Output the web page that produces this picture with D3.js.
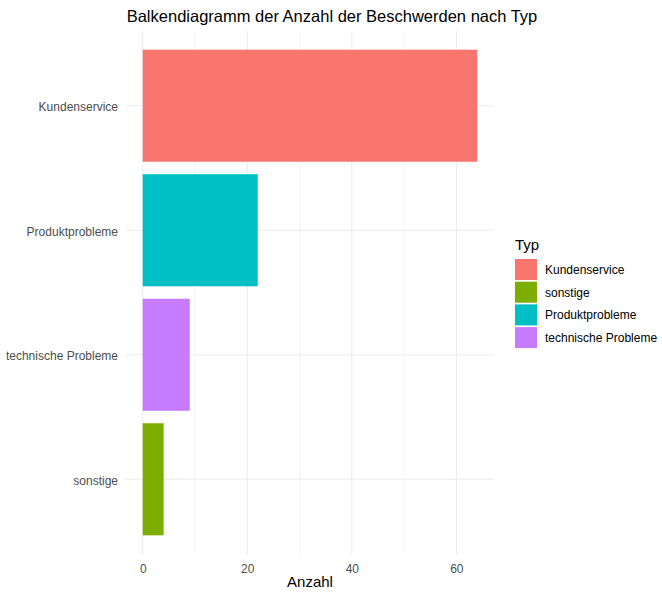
<!DOCTYPE html>
<html>
<head>
<meta charset="utf-8">
<script src="https://cdn.jsdelivr.net/npm/d3@7"></script>
<style>
  body { margin: 0; background: #fff; }
  text { font-family: "Liberation Sans", Arial, sans-serif; }
</style>
</head>
<body>
<div id="chart"></div>
<script>
// bar order top to bottom
var categories = ["Kundenservice", "Produktprobleme", "technische Probleme", "sonstige"];
var counts = [64, 22, 9, 4];
// legend / colour order (factor levels)
var legendTypes = ["Kundenservice", "sonstige", "Produktprobleme", "technische Probleme"];
var legendColors = ["#F8766D", "#7CAE00", "#00BFC4", "#C77CFF"];
var xTicks = [0, 20, 40, 60];

var width = 662, height = 598;
var panel = { left: 126, right: 494, top: 31, bottom: 554 };

var svg = d3.select("#chart").append("svg")
    .attr("width", width)
    .attr("height", height);

var data = categories.map(function (c, i) { return { typ: c, n: counts[i] }; });

var maxN = d3.max(counts);
var x = d3.scaleLinear()
    .domain([-maxN * 0.05, maxN * 1.05])
    .range([panel.left, panel.right]);

var y = d3.scaleBand()
    .domain(categories)
    .range([panel.top, panel.bottom])
    .paddingInner(0.1)
    .paddingOuter(0.15);

var color = d3.scaleOrdinal()
    .domain(legendTypes)
    .range(legendColors);

// grid lines: minor then major
var minorTicks = [10, 30, 50];
svg.append("g").selectAll("line.minor")
    .data(minorTicks)
    .enter().append("line")
    .attr("x1", function (d) { return x(d); })
    .attr("x2", function (d) { return x(d); })
    .attr("y1", panel.top)
    .attr("y2", panel.bottom)
    .attr("stroke", "#ebebeb")
    .attr("stroke-width", 0.6);

svg.append("g").selectAll("line.major")
    .data(xTicks)
    .enter().append("line")
    .attr("x1", function (d) { return x(d); })
    .attr("x2", function (d) { return x(d); })
    .attr("y1", panel.top)
    .attr("y2", panel.bottom)
    .attr("stroke", "#ebebeb")
    .attr("stroke-width", 1.1);

svg.append("g").selectAll("line.ygrid")
    .data(categories)
    .enter().append("line")
    .attr("x1", panel.left)
    .attr("x2", panel.right)
    .attr("y1", function (d) { return y(d) + y.bandwidth() / 2; })
    .attr("y2", function (d) { return y(d) + y.bandwidth() / 2; })
    .attr("stroke", "#ebebeb")
    .attr("stroke-width", 1.1);

// bars
svg.append("g").selectAll("rect")
    .data(data)
    .enter().append("rect")
    .attr("x", x(0))
    .attr("y", function (d) { return y(d.typ); })
    .attr("width", function (d) { return x(d.n) - x(0); })
    .attr("height", y.bandwidth())
    .attr("fill", function (d) { return color(d.typ); });

// x axis
var xAxis = svg.append("g")
    .attr("transform", "translate(0," + (panel.bottom + 2) + ")")
    .call(d3.axisBottom(x).tickValues(xTicks).tickSize(0).tickPadding(8));
xAxis.select(".domain").remove();
xAxis.selectAll("text")
    .attr("fill", "#4d4d4d")
    .style("font-size", "12px");

// y axis
var yAxis = svg.append("g")
    .attr("transform", "translate(" + (panel.left - 4) + ",1.5)")
    .call(d3.axisLeft(y).tickSize(0).tickPadding(4));
yAxis.select(".domain").remove();
yAxis.selectAll("text")
    .attr("fill", "#4d4d4d")
    .style("font-size", "12px");

// axis title
svg.append("text")
    .attr("x", (panel.left + panel.right) / 2)
    .attr("y", 587)
    .attr("text-anchor", "middle")
    .style("font-size", "15px")
    .attr("fill", "#000")
    .text("Anzahl");

// title
svg.append("text")
    .attr("x", 332)
    .attr("y", 22)
    .attr("text-anchor", "middle")
    .style("font-size", "16.5px")
    .attr("fill", "#000")
    .text("Balkendiagramm der Anzahl der Beschwerden nach Typ");

// legend
var legend = svg.append("g")
    .attr("transform", "translate(515,250)");

legend.append("text")
    .attr("x", 0)
    .attr("y", 0)
    .style("font-size", "15px")
    .attr("fill", "#000")
    .text("Typ");

var items = legend.selectAll(".legend")
    .data(legendTypes)
    .enter().append("g")
    .attr("class", "legend")
    .attr("transform", function (d, i) { return "translate(0," + (9 + i * 22.7) + ")"; });

items.append("rect")
    .attr("width", 22)
    .attr("height", 21)
    .attr("fill", function (d) { return color(d); });

items.append("text")
    .attr("x", 30)
    .attr("y", 15)
    .style("font-size", "12px")
    .attr("fill", "#000")
    .text(function (d) { return d; });
</script>
</body>
</html>
